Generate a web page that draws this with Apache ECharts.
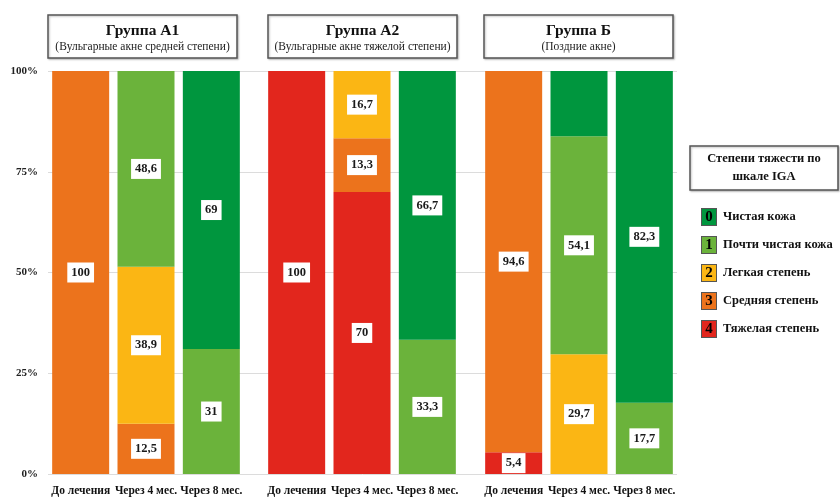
<!DOCTYPE html>
<html>
<head>
<meta charset="utf-8">
<script src="https://cdn.jsdelivr.net/npm/echarts@6/dist/echarts.min.js"></script>
<style>
  html, body { margin: 0; padding: 0; background: #fff; }
  #chart { width: 840px; height: 497px; }
</style>
</head>
<body>
<div id="chart"></div>
<script>
// data, 9 bars: 3 groups x 3 time points, null = no segment
const timePoints = ['До лечения', 'Через 4 мес.', 'Через 8 мес.'];
const groupTitles = ['Группа А1', 'Группа А2', 'Группа Б'];
const groupSubtitles = ['(Вульгарные акне средней степени)', '(Вульгарные акне тяжелой степени)', '(Поздние акне)'];
const yTicks = ['0%', '25%', '50%', '75%', '100%'];

const severeVals   = [null, null, null, 100, 70, null, 5.4, null, null];
const moderateVals = [100, 12.5, null, null, 13.3, null, 94.6, null, null];
const mildVals     = [null, 38.9, null, null, 16.7, null, null, 29.7, null];
const almostVals   = [null, 48.6, 31, null, null, 33.3, null, 54.1, 17.7];
const clearVals    = [null, null, 69, null, null, 66.7, null, 16.2, 82.3];
// segments drawn without a number in the source
const unlabeled = { 'Чистая кожа': [7] };

// bottom to top of stack
const levels = [
  { code: 4, name: 'Тяжелая степень', color: '#e2261d', vals: severeVals },
  { code: 3, name: 'Средняя степень', color: '#ec731c', vals: moderateVals },
  { code: 2, name: 'Легкая степень', color: '#fbb614', vals: mildVals },
  { code: 1, name: 'Почти чистая кожа', color: '#6bb33b', vals: almostVals },
  { code: 0, name: 'Чистая кожа', color: '#00963e', vals: clearVals }
];

const serif = '"Liberation Serif", "DejaVu Serif", serif';
const gridLefts = [48, 264, 481];
const gridW = 196;

const grids = [{ left: 48, width: 629, top: 71, bottom: 23 }];
const xAxes = [{ gridIndex: 0, type: 'category', data: [''], show: false }];
const yAxes = [{
  gridIndex: 0, type: 'value', min: 0, max: 100, interval: 25,
  axisLine: { show: false }, axisTick: { show: false },
  splitLine: { lineStyle: { color: '#dcdcdc', width: 1 } },
  axisLabel: {
    margin: 10, color: '#222', fontFamily: serif, fontWeight: 'bold', fontSize: 11,
    formatter: v => yTicks[v / 25]
  }
}];
const series = [];
const graphic = [];

groupTitles.forEach((title, g) => {
  const gi = g + 1;
  grids.push({ left: gridLefts[g], width: gridW, top: 71, bottom: 23 });
  xAxes.push({
    gridIndex: gi, type: 'category', data: timePoints,
    axisLine: { show: false }, axisTick: { show: false },
    axisLabel: { margin: 11, color: '#111', fontFamily: serif, fontWeight: 'bold', fontSize: 11.5, interval: 0 }
  });
  yAxes.push({ gridIndex: gi, type: 'value', min: 0, max: 100, show: false });

  levels.forEach(lv => {
    const hide = unlabeled[lv.name] || [];
    series.push({
      name: lv.name,
      type: 'bar',
      xAxisIndex: gi,
      yAxisIndex: gi,
      stack: 'g' + g,
      barWidth: 57,
      itemStyle: { color: lv.color },
      label: {
        show: true, position: 'inside',
        backgroundColor: '#fff', padding: [4, 4, 3, 4],
        color: '#1a1a1a', fontFamily: serif, fontWeight: 'bold', fontSize: 12.5,
        formatter: p => String(p.value).replace('.', ',')
      },
      data: lv.vals.slice(g * 3, g * 3 + 3).map((v, i) =>
        hide.includes(g * 3 + i) ? { value: v, label: { show: false } } : v)
    });
  });

  const bx = [48, 268, 484][g];
  graphic.push({
    type: 'rect', shape: { x: bx, y: 15, width: 189, height: 43 },
    style: { fill: '#fff', stroke: '#555', lineWidth: 1.5, shadowColor: 'rgba(0,0,0,0.25)', shadowBlur: 2, shadowOffsetX: 1, shadowOffsetY: 1 }
  });
  graphic.push({
    type: 'text', x: bx + 94.5, y: 31,
    style: { text: title, font: 'bold 15.5px ' + serif, fill: '#111', align: 'center', verticalAlign: 'middle' }
  });
  graphic.push({
    type: 'text', x: bx + 94.5, y: 47,
    style: { text: groupSubtitles[g], font: '11.5px ' + serif, fill: '#222', align: 'center', verticalAlign: 'middle' }
  });
});

// legend heading box
graphic.push({
  type: 'rect', shape: { x: 690, y: 146, width: 148, height: 44 },
  style: { fill: '#fff', stroke: '#555', lineWidth: 1.5, shadowColor: 'rgba(0,0,0,0.25)', shadowBlur: 2, shadowOffsetX: 1, shadowOffsetY: 1 }
});
graphic.push({
  type: 'text', x: 764, y: 168,
  style: { text: 'Степени тяжести по\nшкале IGA', font: 'bold 12.5px ' + serif, lineHeight: 18, fill: '#111', align: 'center', verticalAlign: 'middle' }
});

const rich = {
  t: { fontFamily: serif, fontWeight: 'bold', fontSize: 12.5, color: '#111', padding: [0, 0, 0, 7] }
};
levels.forEach(lv => {
  rich['n' + lv.code] = {
    backgroundColor: lv.color, borderColor: '#555', borderWidth: 1,
    width: 14, height: 16, align: 'center', verticalAlign: 'middle',
    fontFamily: serif, fontWeight: 'bold', fontSize: 15, color: '#000'
  };
});

const chart = echarts.init(document.getElementById('chart'));
chart.setOption({
  animation: false,
  grid: grids,
  xAxis: xAxes,
  yAxis: yAxes,
  series: series,
  graphic: graphic,
  legend: {
    orient: 'vertical', left: 692, top: 203, itemGap: 10,
    itemWidth: 0, itemHeight: 18, icon: 'rect', selectedMode: false,
    data: levels.slice().reverse().map(lv => lv.name),
    formatter: name => {
      const lv = levels.find(l => l.name === name);
      return '{n' + lv.code + '|' + lv.code + '}{t|' + name + '}';
    },
    textStyle: { rich: rich }
  }
});
</script>
</body>
</html>
